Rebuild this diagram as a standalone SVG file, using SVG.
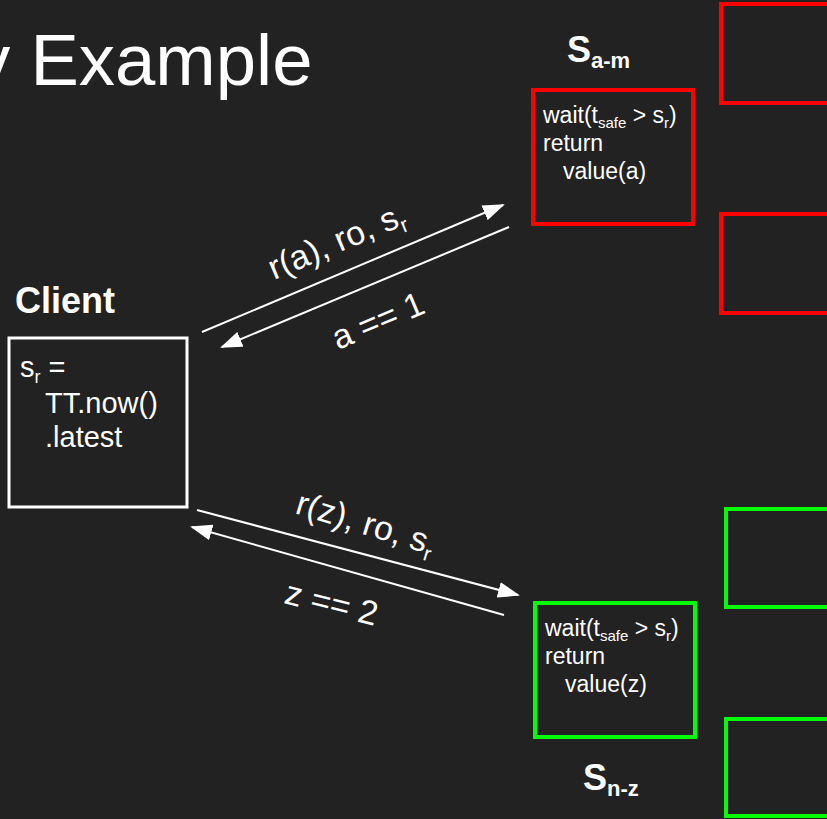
<svg xmlns="http://www.w3.org/2000/svg" width="827" height="819" viewBox="0 0 827 819">
<style>
text{font-family:"Liberation Sans",Arial,sans-serif;fill:#ffffff}
.b{font-weight:bold}
.red{fill:none;stroke:#ff0000;stroke-width:4}
.grn{fill:none;stroke:#00ff00;stroke-width:4}
.wht{fill:none;stroke:#ffffff;stroke-width:3}
.code{font-size:23px}
.cl{font-size:29px}
.lbl{font-size:34px}
.conn line{stroke:#ffffff;stroke-width:2}
</style>
<defs>
<marker id="ah" markerUnits="userSpaceOnUse" markerWidth="22" markerHeight="16" refX="20" refY="8" orient="auto">
<path d="M0,0 L22,8 L0,16 Z" fill="#ffffff"/>
</marker>
</defs>
<rect width="827" height="819" fill="#222222"/>
<text x="-26" y="85" font-size="72.5">y Example</text>

<g id="client">
<text class="b" x="15" y="313" font-size="36">Client</text>
<rect class="wht" x="9" y="338" width="178" height="169"/>
<text class="cl" x="20" y="377">s<tspan font-size="18" dy="6">r</tspan><tspan dy="-6"> =</tspan></text>
<text class="cl" x="45" y="413">TT.now()</text>
<text class="cl" x="45" y="447">.latest</text>
</g>

<g id="server-am">
<text class="b" x="567" y="62" font-size="36">S<tspan font-size="22" dy="6">a-m</tspan></text>
<rect class="red" x="533" y="90" width="160" height="134"/>
<text class="code" x="543" y="123">wait(t<tspan font-size="15" dy="5">safe</tspan><tspan dy="-5"> &gt; s</tspan><tspan font-size="15" dy="5">r</tspan><tspan dy="-5">)</tspan></text>
<text class="code" x="543" y="151">return</text>
<text class="code" x="563" y="179">value(a)</text>
</g>
<g id="replica-a1"><rect class="red" x="721" y="4" width="120" height="99"/></g>
<g id="replica-a2"><rect class="red" x="721" y="214" width="120" height="99"/></g>

<g id="server-nz">
<rect class="grn" x="535" y="603" width="160" height="134"/>
<text class="code" x="545" y="636">wait(t<tspan font-size="15" dy="5">safe</tspan><tspan dy="-5"> &gt; s</tspan><tspan font-size="15" dy="5">r</tspan><tspan dy="-5">)</tspan></text>
<text class="code" x="545" y="664">return</text>
<text class="code" x="565" y="692">value(z)</text>
<text class="b" x="583" y="790" font-size="36">S<tspan font-size="22" dy="6">n-z</tspan></text>
</g>
<g id="replica-z1"><rect class="grn" x="726" y="509" width="120" height="98"/></g>
<g id="replica-z2"><rect class="grn" x="726" y="719" width="120" height="97"/></g>

<g class="conn">
<line x1="202" y1="332" x2="503" y2="205" marker-end="url(#ah)"/>
<line x1="509" y1="227" x2="222" y2="347" marker-end="url(#ah)"/>
<line x1="197" y1="510" x2="518" y2="595" marker-end="url(#ah)"/>
<line x1="504" y1="615" x2="192" y2="527" marker-end="url(#ah)"/>
</g>

<g id="labels">
<text class="lbl" transform="translate(274,280) rotate(-22.9)">r(a), ro, s<tspan font-size="21" dy="7">r</tspan></text>
<text class="lbl" transform="translate(338,350) rotate(-22.9)">a == 1</text>
<text class="lbl" transform="translate(294,513) rotate(17)">r(z), ro, s<tspan font-size="21" dy="7">r</tspan></text>
<text class="lbl" transform="translate(283,603) rotate(14)">z == 2</text>
</g>
</svg>
